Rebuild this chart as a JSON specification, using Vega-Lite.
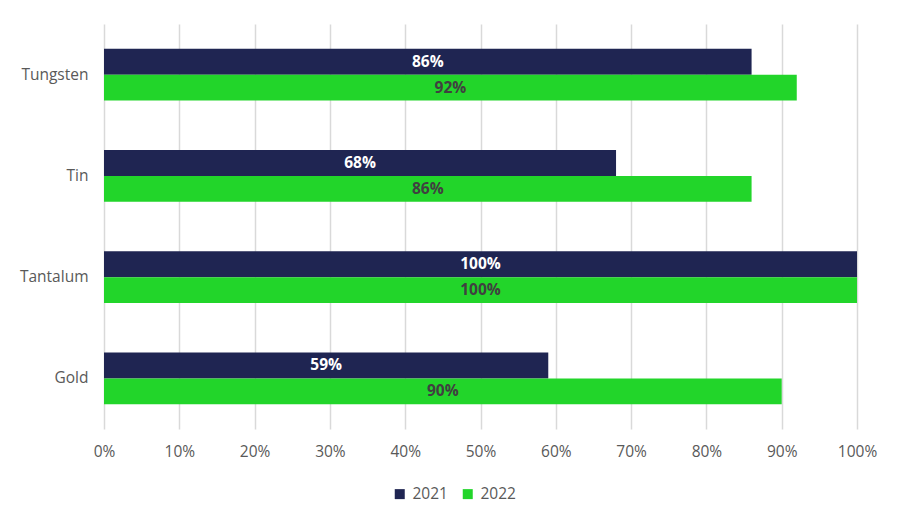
{
  "$schema": "https://vega.github.io/schema/vega-lite/v6.json",
  "autosize": {"type": "none"},
  "padding": {"left": 104, "top": 24, "right": 45, "bottom": 98},
  "width": 753,
  "height": 405,
  "background": "white",
  "config": {
    "view": {"stroke": null},
    "font": "Open Sans"
  },
  "data": {
    "values": [
      {"metal": "Tungsten", "year": "2021", "v": 0.86},
      {"metal": "Tungsten", "year": "2022", "v": 0.92},
      {"metal": "Tin", "year": "2021", "v": 0.68},
      {"metal": "Tin", "year": "2022", "v": 0.86},
      {"metal": "Tantalum", "year": "2021", "v": 1.0},
      {"metal": "Tantalum", "year": "2022", "v": 1.0},
      {"metal": "Gold", "year": "2021", "v": 0.59},
      {"metal": "Gold", "year": "2022", "v": 0.90}
    ]
  },
  "transform": [{"calculate": "datum.v / 2", "as": "mid"}],
  "encoding": {
    "y": {
      "field": "metal",
      "type": "nominal",
      "sort": ["Tungsten", "Tin", "Tantalum", "Gold"],
      "scale": {"paddingInner": 0.49, "paddingOuter": 0.245},
      "axis": {"title": null, "domain": false, "ticks": false, "labelFontSize": 15.5, "labelColor": "#595959", "labelPadding": 16, "labelFont": "Open Sans"}
    },
    "yOffset": {"field": "year", "type": "nominal", "scale": {"paddingInner": 0, "paddingOuter": 0}}
  },
  "layer": [
    {
      "mark": {"type": "bar"},
      "encoding": {
        "x": {
          "field": "v",
          "type": "quantitative",
          "scale": {"domain": [0, 1], "nice": false},
          "axis": {
            "title": null,
            "format": ".0%",
            "values": [0, 0.1, 0.2, 0.3, 0.4, 0.5, 0.6, 0.7, 0.8, 0.9, 1.0],
            "domain": false,
            "ticks": false,
            "grid": true,
            "gridColor": "#d9d9d9",
            "gridWidth": 1.5,
            "labelFlush": false,
            "labelFontSize": 15.5,
            "labelColor": "#595959",
            "labelPadding": 15,
            "labelFont": "Open Sans"
          }
        },
        "color": {
          "field": "year",
          "type": "nominal",
          "scale": {"domain": ["2021", "2022"], "range": ["#1F2552", "#22D52A"]},
          "legend": {
            "title": null,
            "orient": "none",
            "direction": "horizontal",
            "legendX": 288,
            "legendY": 462,
            "symbolType": "square",
            "symbolSize": 100,
            "symbolStrokeWidth": 0,
            "labelFontSize": 15.5,
            "labelColor": "#595959",
            "labelFont": "Open Sans",
            "columnPadding": 12,
            "labelOffset": 5
          }
        }
      }
    },
    {
      "mark": {"type": "text", "fontSize": 15.5, "fontWeight": "bold", "font": "Open Sans"},
      "encoding": {
        "x": {"field": "mid", "type": "quantitative"},
        "text": {"field": "v", "type": "quantitative", "format": ".0%"},
        "color": {
          "condition": {"test": "datum.year == '2021'", "value": "white"},
          "value": "#404040"
        }
      }
    }
  ]
}
